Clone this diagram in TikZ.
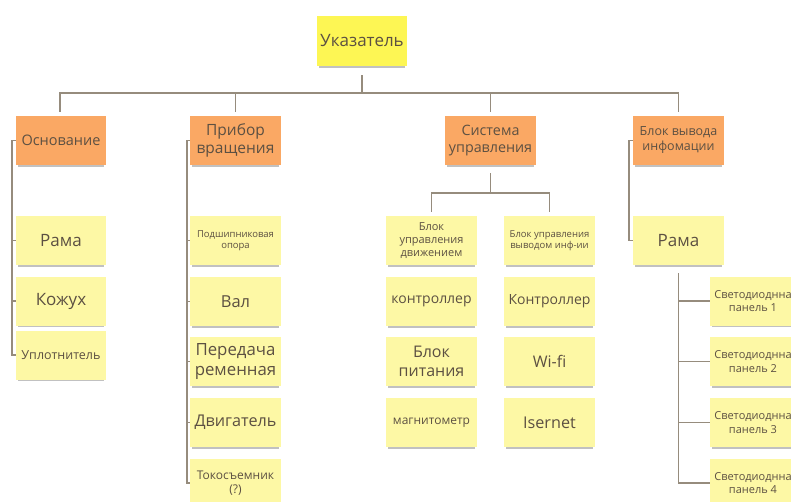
\documentclass[tikz,border=0pt]{standalone}
\usepackage{fontspec}
\setmainfont{Open Sans}
\usetikzlibrary{calc,shadows}
\definecolor{txt}{RGB}{92,80,66}
\definecolor{topY}{RGB}{253,246,84}
\definecolor{orangeC}{RGB}{250,168,100}
\definecolor{leafY}{RGB}{253,248,165}
\definecolor{lineC}{RGB}{150,140,125}
\newcommand{\fz}[1]{\fontsize{#1}{\dimexpr #1pt*6/5\relax}\selectfont}
\tikzset{
  note/.style={rectangle, minimum width=91pt, minimum height=49pt, inner sep=2pt,
    align=center, text=txt,
    drop shadow={shadow xshift=0pt, shadow yshift=-3pt, shadow scale=0.95, opacity=0.35, fill=black!70}},
  topnote/.style={note, fill=topY, minimum width=90pt, minimum height=50pt},
  cat/.style={note, fill=orangeC},
  leaf/.style={note, fill=leafY},
  conn/.style={draw=lineC, line width=1.5pt},
}
\begin{document}
\begin{tikzpicture}[x=1pt,y=-1pt]
\useasboundingbox (0,0) rectangle (791,502);
% nodes
\node[topnote, font=\fz{17}] (top) at (362,41) {Указатель};
\node[cat, font=\fz{14.5}, minimum width=90pt] (osn) at (61,140.5) {Основание};
\node[cat, font=\fz{15.5}] (prib) at (235.5,140.5) {Прибор\\вращения};
\node[cat, font=\fz{14.3}] (sist) at (490.5,140.5) {Система\\управления};
\node[cat, font=\fz{12.5}] (blok) at (678.5,140.5) {Блок вывода\\инфомации};
% Основание
\node[leaf, font=\fz{17}, minimum width=90pt] (o1) at (61,240.5) {Рама};
\node[leaf, font=\fz{17}, minimum width=90pt] (o2) at (61,301) {Кожух};
\node[leaf, font=\fz{12.5}, minimum width=90pt] (o3) at (61,355) {Уплотнитель};
% Прибор вращения
\node[leaf, font=\fz{9.5}] (p1) at (235.5,240.5) {Подшипниковая\\опора};
\node[leaf, font=\fz{16.5}] (p2) at (235.5,301.5) {Вал};
\node[leaf, font=\fz{16.8}] (p3) at (235.5,361.5) {Передача\\ременная};
\node[leaf, font=\fz{16.2}] (p4) at (235.5,422.5) {Двигатель};
\node[leaf, font=\fz{12}] (p5) at (235.5,483) {Токосъемник\\(?)};
% Система управления
\node[leaf, font=\fz{11}] (c1a) at (431.5,240.5) {Блок\\управления\\движением};
\node[leaf, font=\fz{14}] (c1b) at (431.5,301.5) {контроллер};
\node[leaf, font=\fz{16}] (c1c) at (431.5,361.5) {Блок\\питания};
\node[leaf, font=\fz{12}] (c1d) at (431.5,422.5) {магнитометр};
\node[leaf, font=\fz{9.5}] (c2a) at (549.5,240.5) {Блок управления\\выводом инф-ии};
\node[leaf, font=\fz{14}] (c2b) at (549.5,301.5) {Контроллер};
\node[leaf, font=\fz{16}] (c2c) at (549.5,361.5) {Wi-fi};
\node[leaf, font=\fz{16.2}] (c2d) at (549.5,422.5) {Isernet};
% Блок вывода
\node[leaf, font=\fz{17}] (b1) at (678.5,240.5) {Рама};
\node[leaf, font=\fz{11}, minimum width=86pt] (s1) at (753,301) {Светодиоднна\\панель 1};
\node[leaf, font=\fz{11}, minimum width=86pt] (s2) at (753,361.5) {Светодиоднна\\панель 2};
\node[leaf, font=\fz{11}, minimum width=86pt] (s3) at (753,422.5) {Светодиоднна\\панель 3};
\node[leaf, font=\fz{11}, minimum width=86pt] (s4) at (753,483) {Светодиоднна\\панель 4};
% connectors: top level
\draw[conn] ($(top.south)+(0,9)$) -- ($(top.south)+(0,27)$) coordinate (bus);
\draw[conn] (bus) -| ($(osn.north)+(-1,-4)$);
\draw[conn] (bus) -| ($(prib.north)+(0,-4)$);
\draw[conn] (bus) -| ($(sist.north)+(0,-4)$);
\draw[conn] (bus) -| ($(blok.north)+(0,-4)$);
% Основание bracket
\foreach \l in {o1,o2,o3} \draw[conn] (osn.west) -- ++(-4,0) |- (\l.west);
% Прибор bracket
\foreach \l in {p1,p2,p3,p4,p5} \draw[conn] (prib.west) -- ++(-3,0) |- (\l.west);
% Система
\draw[conn] ($(sist.south)+(0,8)$) -- ++(0,20) coordinate (sb);
\draw[conn] (sb) -| ($(c1a.north)+(0,-4)$);
\draw[conn] (sb) -| ($(c2a.north)+(0,-4)$);
% Блок вывода bracket
\draw[conn] (blok.west) -- ++(-4,0) |- (b1.west);
% panels
\coordinate (pk) at ($(b1.south)+(0,8)$);
\foreach \l in {s1,s2,s3,s4} \draw[conn] (pk) |- (\l.west);
\end{tikzpicture}
\end{document}
